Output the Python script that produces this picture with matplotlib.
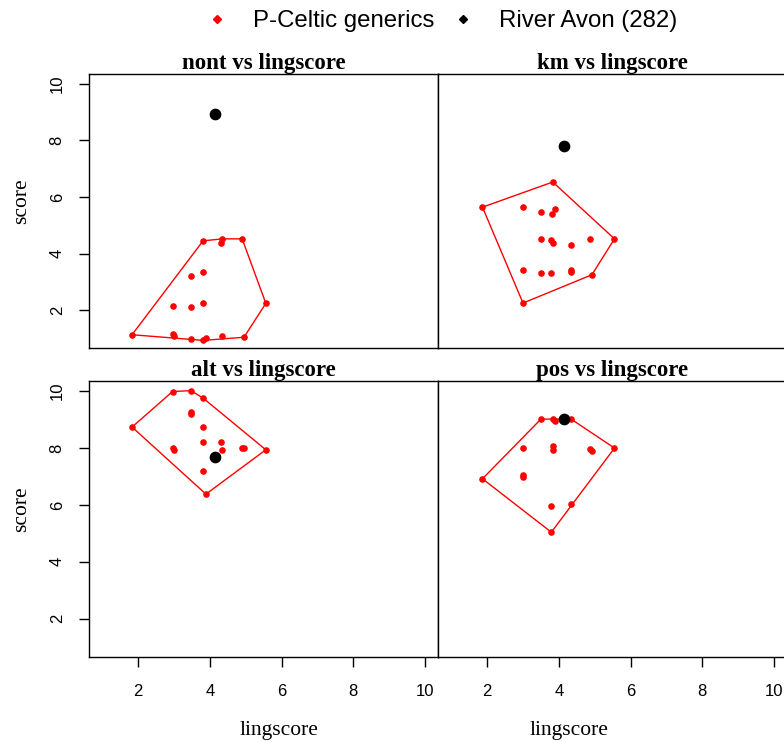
import matplotlib
matplotlib.use("Agg")
import matplotlib.pyplot as plt
from matplotlib.lines import Line2D

# --- data ---
nont_ling = [1.83, 2.97, 3.00, 3.47, 3.81, 3.89, 4.35, 4.95, 5.56, 2.96, 3.47, 3.81,
             3.47, 3.81, 3.81, 4.30, 4.35, 4.90]
nont_score = [1.13, 1.14, 1.10, 0.98, 0.93, 1.03, 1.08, 1.04, 2.24, 2.13, 2.10, 2.25,
              3.20, 3.36, 4.45, 4.39, 4.52, 4.52]

km_ling = [3.83, 1.87, 3.00, 3.50, 3.88, 3.82, 3.50, 3.79, 3.84, 4.34, 4.88, 5.55,
           3.00, 3.50, 3.79, 4.34, 4.34, 4.92, 3.00]
km_score = [6.53, 5.64, 5.64, 5.48, 5.59, 5.40, 4.52, 4.48, 4.36, 4.31, 4.52, 4.52,
            3.41, 3.30, 3.30, 3.43, 3.35, 3.25, 2.25]

alt_ling = [1.83, 2.96, 3.47, 3.81, 3.47, 3.47, 3.80, 3.80, 4.30, 4.35, 2.96, 3.00,
            4.89, 4.95, 5.56, 3.80, 3.89]
alt_score = [8.74, 9.99, 10.02, 9.76, 9.27, 9.21, 8.74, 8.21, 8.21, 7.94, 8.00, 7.94,
             8.00, 8.00, 7.94, 7.19, 6.38]

pos_ling = [3.50, 3.84, 3.88, 4.34, 5.55, 3.00, 3.84, 3.84, 4.88, 4.92, 3.00, 3.00,
            1.87, 3.79, 4.34, 3.79]
pos_score = [9.02, 9.02, 8.95, 9.02, 8.00, 8.00, 8.09, 7.94, 7.97, 7.89, 7.04, 6.97,
             6.92, 5.96, 6.02, 5.04]

avon_ling = 4.13
avon_score = {"nont": 8.92, "km": 7.79, "alt": 7.67, "pos": 9.01}

panels = [
    ("nont", nont_ling, nont_score),
    ("km", km_ling, km_score),
    ("alt", alt_ling, alt_score),
    ("pos", pos_ling, pos_score),
]


def convex_hull(xs, ys):
    pts = sorted(set(zip(xs, ys)))

    def cross(o, a, b):
        return (a[0] - o[0]) * (b[1] - o[1]) - (a[1] - o[1]) * (b[0] - o[0])

    lower, upper = [], []
    for p in pts:
        while len(lower) >= 2 and cross(lower[-2], lower[-1], p) <= 0:
            lower.pop()
        lower.append(p)
    for p in reversed(pts):
        while len(upper) >= 2 and cross(upper[-2], upper[-1], p) <= 0:
            upper.pop()
        upper.append(p)
    hull = lower[:-1] + upper[:-1]
    hull.append(hull[0])
    return [p[0] for p in hull], [p[1] for p in hull]


W, H = 784, 742
fig = plt.figure(figsize=(W / 100, H / 100), dpi=100)

# panel rectangles in pixels: left, top, width, height
boxes = [(89, 73.7, 349, 274.6), (438, 73.7, 349, 274.6),
         (89, 381, 349, 276), (438, 381, 349, 276)]

for i, ((name, lx, sy), (px, py, pw, ph)) in enumerate(zip(panels, boxes)):
    ax = fig.add_axes([px / W, 1 - (py + ph) / H, pw / W, ph / H])
    hx, hy = convex_hull(lx, sy)
    ax.plot(hx, hy, color="red", lw=1)
    ax.scatter(lx, sy, s=14, color="red", zorder=3)
    ax.scatter([avon_ling], [avon_score[name]], s=55, color="black", zorder=4)
    ax.set_xlim(0.63, 10.36)
    ax.set_ylim(0.65, 10.36)
    ax.set_xticks([2, 4, 6, 8, 10])
    ax.set_yticks([2, 4, 6, 8, 10])
    for sp in ax.spines.values():
        sp.set_linewidth(1)
    bottom = i >= 2
    left = i % 2 == 0
    ax.tick_params(axis="x", direction="out", length=7.5, width=1, pad=12,
                   labelsize=12, bottom=bottom, labelbottom=bottom)
    ax.tick_params(axis="y", direction="out", length=7.5, width=1, pad=10,
                   labelsize=12, left=left, labelleft=left, labelrotation=90)
    for lab in ax.get_xticklabels() + ax.get_yticklabels():
        lab.set_family("Liberation Sans")
    for lab in ax.get_yticklabels():
        lab.set_va("center")
    ax.set_title(f"{name} vs lingscore", fontsize=16.5, fontweight="bold",
                 family="Liberation Serif", pad=3)

# axis labels
fig.text(279 / W, 1 - 730 / H, "lingscore", ha="center", va="center",
         fontsize=15.5, family="Liberation Serif")
fig.text(569 / W, 1 - 730 / H, "lingscore", ha="center", va="center",
         fontsize=15.5, family="Liberation Serif")
fig.text(22 / W, 1 - 201 / H, "score", ha="center", va="center", rotation=90,
         fontsize=15.5, family="Liberation Serif")
fig.text(22 / W, 1 - 509 / H, "score", ha="center", va="center", rotation=90,
         fontsize=15.5, family="Liberation Serif")

handles = [
    Line2D([], [], marker="D", ls="none", color="red", markersize=4.5),
    Line2D([], [], marker="D", ls="none", color="black", markersize=4.5),
]
fig.legend(handles, ["P-Celtic generics", "River Avon (282)"], loc="center",
           bbox_to_anchor=(441 / W, 1 - 21 / H), ncol=2, frameon=False,
           prop={"family": "Liberation Sans", "size": 17.3},
           handlelength=1.0, handletextpad=1.0, columnspacing=0.7)

fig.savefig("out.png", dpi=100)
